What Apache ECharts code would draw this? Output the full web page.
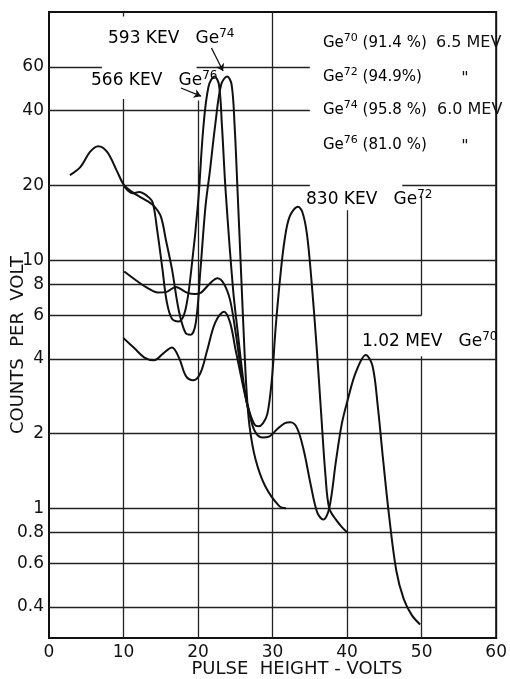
<!DOCTYPE html>
<html>
<head>
<meta charset="utf-8">
<style>
  html, body { margin: 0; padding: 0; background: #fff; }
  #chart { width: 510px; height: 679px; }
</style>
<script src="https://cdn.jsdelivr.net/npm/echarts@6/dist/echarts.min.js"></script>
</head>
<body>
<div id="chart"></div>
<script>
// pulse height spectra, counts per volt vs pulse height (volts)
const ge70 = [[10, 4.85], [11.5, 4.4], [12.8, 4.05], [14.1, 3.95], [15.3, 4.2], [16.5, 4.45], [17.5, 4.0],
  [18.4, 3.4], [19.4, 3.28], [20.3, 3.5], [21.2, 4.3], [22.3, 5.6], [23.5, 6.2], [24.3, 5.6], [25, 4.4],
  [25.6, 3.6], [26.2, 2.95], [26.9, 2.4], [27.6, 2.05], [28.6, 1.93], [29.6, 1.95], [30.6, 2.08], [31.6, 2.2],
  [32.4, 2.22], [33.3, 2.1], [34.2, 1.7], [35.1, 1.25], [36, 0.96], [36.8, 0.9], [37.6, 1.0], [38.5, 1.55],
  [39.3, 2.2], [40.1, 2.75], [41.2, 3.55], [42.5, 4.15], [43.4, 3.75], [44.1, 2.6], [44.8, 1.6], [45.6, 0.95],
  [46.6, 0.56], [47.6, 0.43], [48.7, 0.37], [49.8, 0.34]]
const ge72 = [[10.1, 9.0], [11.9, 8.2], [13.3, 7.7], [14.6, 7.4], [15.8, 7.45], [17, 7.8], [18.5, 7.4],
  [19.6, 7.3], [20.4, 7.4], [21.5, 8.0], [22.6, 8.45], [23.5, 8.0], [24.3, 6.9], [25, 5.2], [25.6, 3.9],
  [26.2, 3.0], [26.9, 2.45], [27.6, 2.17], [28.1, 2.14], [28.7, 2.2], [29.3, 2.4], [29.9, 3.3], [30.4, 5.3],
  [31, 8.4], [31.6, 12], [32.3, 15], [33.4, 16.4], [34, 15.6], [34.6, 12.8], [35.2, 8.4], [35.9, 4.5],
  [36.5, 2.45], [37.1, 1.35], [37.6, 1.0], [38.5, 0.9], [39.3, 0.84], [40, 0.8]]
const ge74 = [[2.8, 22], [4.2, 23.7], [5.5, 27.3], [6.6, 28.8], [7.8, 27.3], [9.1, 22.9], [10.1, 20],
  [11.2, 18.8], [12.2, 18], [13.2, 17.3], [14.1, 16.5], [15, 15], [15.7, 12], [16.5, 9.2], [17.4, 6.3],
  [18.3, 5.1], [19, 5.0], [19.7, 5.6], [20.3, 9], [21, 16.5], [21.6, 23], [22.3, 35], [23.1, 51], [23.9, 55],
  [24.5, 51], [24.9, 35], [25.3, 19], [25.8, 8.5], [26.2, 4.5], [26.5, 3.0], [26.9, 2.15], [27.7, 1.58],
  [29, 1.23], [30.9, 1.02], [31.8, 1.0]]
const ge76 = [[10.1, 19.8], [11.2, 18.6], [12.1, 18.8], [13.2, 18.1], [13.9, 17.1], [14.5, 13.3], [15.2, 9.3],
  [15.8, 6.8], [16.5, 5.8], [17.4, 5.66], [18.3, 6.3], [19.1, 9.2], [20, 17], [20.7, 34], [21.4, 50],
  [22.2, 55], [22.8, 51], [23.2, 35], [23.7, 19], [24.7, 7.6], [25.3, 5.2], [26, 3.4], [26.5, 2.7], [27, 2.35]]

const yTicks = [0.4, 0.6, 0.8, 1, 2, 4, 6, 8, 10, 20, 40, 60]

// ruled grid, broken where the lettering sits: [value, from, to]
const hRules = [[60, 0, 7.1], [60, 19.8, 35], [40, 0, 35], [20, 0, 35], [20, 47.4, 60],
  [10, 0, 60], [8, 0, 60], [6, 0, 50], [4, 0, 60], [2, 0, 60], [1, 0, 60], [0.8, 0, 60], [0.6, 0, 60], [0.4, 0, 60]]
const vRules = [[10, 0.3, 44.6], [10, 96, 100], [20, 0.3, 44], [30, 0.3, 100], [40, 0.3, 15.9],
  [50, 0.3, 4.1], [50, 6, 18.1]]

// arrows from the peak labels
const arrows = [[[21.8, 71.6], [23.35, 57.8]], [[17.7, 49.4], [20.4, 45.8]]]

const FONT = 'DejaVu Sans'
const INK = '#111'

const ruleData = hRules.map(r => ({ coords: [[r[1], r[0]], [r[2], r[0]]] }))
  .concat(vRules.map(r => ({ coords: [[r[0], r[1]], [r[0], r[2]]] })))

function curve(name, data) {
  return {
    name: name,
    type: 'line',
    data: data,
    showSymbol: false,
    smooth: 0.35,
    lineStyle: { color: INK, width: 2 },
    silent: true,
    z: 3
  }
}

function sup(big, small) {
  return '{a|' + big + '}{b|' + small + '}'
}
function lsup(big, small) {
  return '{c|' + big + '}{d|' + small + '}'
}
const rich = {
  a: { fontFamily: FONT, fontSize: 17, color: INK, lineHeight: 22 },
  b: { fontFamily: FONT, fontSize: 12, color: INK, lineHeight: 12, verticalAlign: 'top' },
  c: { fontFamily: FONT, fontSize: 15, color: INK, lineHeight: 20 },
  d: { fontFamily: FONT, fontSize: 11, color: INK, lineHeight: 11, verticalAlign: 'top' }
}
function label(x, y, text) {
  return {
    type: 'text', x: x, y: y,
    style: { text: text, rich: rich, align: 'left', verticalAlign: 'middle' }
  }
}
function plain(x, y, text, size, align) {
  return {
    type: 'text', x: x, y: y,
    style: { text: text, fontFamily: FONT, fontSize: size, fill: INK, align: align || 'left', verticalAlign: 'middle' }
  }
}

const myChart = echarts.init(document.getElementById('chart'))
myChart.setOption({
  animation: false,
  backgroundColor: '#fff',
  grid: { left: 49, right: 7, top: 12, bottom: 41, show: true, borderColor: INK, borderWidth: 2 },
  xAxis: {
    type: 'value',
    min: 0,
    max: 60,
    interval: 10,
    axisLine: { show: true, lineStyle: { color: INK, width: 2 } },
    axisTick: { show: false },
    splitLine: { show: false },
    axisLabel: { color: INK, fontFamily: FONT, fontSize: 17, margin: 6 }
  },
  yAxis: {
    type: 'log',
    logBase: 10,
    min: 0.3,
    max: 100,
    axisLine: { show: true, lineStyle: { color: INK, width: 2 } },
    axisTick: { show: false },
    splitLine: { show: false },
    minorSplitLine: { show: false },
    axisLabel: {
      customValues: yTicks,
      color: INK, fontFamily: FONT, fontSize: 17, margin: 5,
      formatter: v => String(+(+v).toPrecision(3))
    }
  },
  series: [
    {
      name: 'rules',
      type: 'lines',
      coordinateSystem: 'cartesian2d',
      data: ruleData,
      silent: true,
      lineStyle: { color: '#222', width: 1.3, opacity: 1 },
      z: 1
    },
    {
      name: 'arrows',
      type: 'lines',
      coordinateSystem: 'cartesian2d',
      data: arrows.map(a => ({ coords: a })),
      symbol: ['none', 'arrow'],
      symbolSize: 7,
      silent: true,
      lineStyle: { color: INK, width: 1.3, opacity: 1 },
      z: 2
    },
    curve('Ge70', ge70),
    curve('Ge72', ge72),
    curve('Ge74', ge74),
    curve('Ge76', ge76)
  ],
  graphic: [
    label(108, 39, sup('593 KEV   Ge', '74')),
    label(91, 81, sup('566 KEV   Ge', '76')),
    label(306, 200, sup('830 KEV   Ge', '72')),
    label(362, 342, sup('1.02 MEV   Ge', '70')),
    label(323, 43, lsup('Ge', '70') + '{c| (91.4 %)}'),
    label(323, 77, lsup('Ge', '72') + '{c| (94.9%)}'),
    label(323, 110, lsup('Ge', '74') + '{c| (95.8 %)}'),
    label(323, 145, lsup('Ge', '76') + '{c| (81.0 %)}'),
    plain(436, 43, '6.5 MEV', 16),
    plain(465, 79, '"', 16, 'center'),
    plain(437, 110, '6.0 MEV', 16),
    plain(465, 147, '"', 16, 'center'),
    plain(297, 669, 'PULSE  HEIGHT - VOLTS', 18, 'center'),
    {
      type: 'text', x: 18, y: 345, rotation: Math.PI / 2,
      style: { text: 'COUNTS  PER  VOLT', fontFamily: FONT, fontSize: 18, fill: INK, align: 'center', verticalAlign: 'middle' }
    }
  ]
})
window.addEventListener('resize', function () {
  myChart.resize()
})
</script>
</body>
</html>
